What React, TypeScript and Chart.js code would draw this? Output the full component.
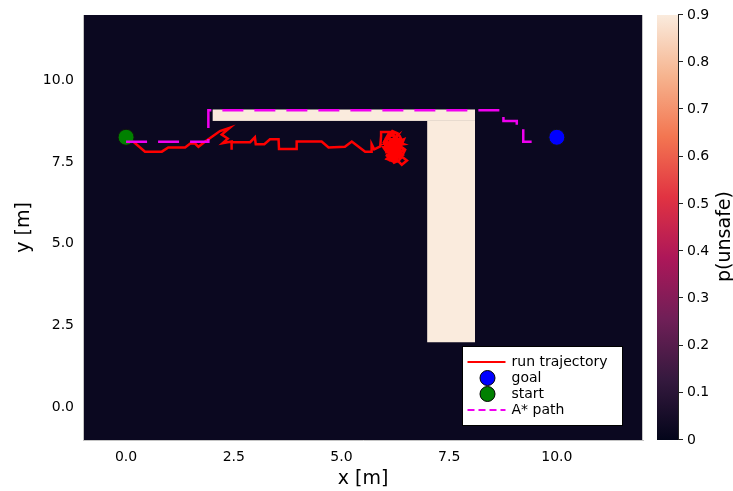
import { useEffect, useRef } from 'react';
import { Chart, registerables } from 'chart.js';

Chart.register(...registerables);

// ---- axis ticks ----
const xTicks = [0, 2.5, 5, 7.5, 10];
const yTicks = [0, 2.5, 5, 7.5, 10];
const cbTicks = [0, 0.1, 0.2, 0.3, 0.4, 0.5, 0.6, 0.7, 0.8, 0.9];

// ---- heatmap (p(unsafe)) ----
const bgP = 0.02;
const obsX0 = [2.01, 6.99];
const obsX1 = [8.1, 8.1];
const obsY0 = [8.76, 1.99];
const obsY1 = [9.11, 8.76];
const obsP = [0.9, 0.9];

// ---- markers ----
const goalX = [10.0];
const goalY = [8.26];
const startX = [0.0];
const startY = [8.26];

// ---- A* path ----
const astarX = [0.0, 1.91, 1.91, 8.76, 8.76, 9.07, 9.07, 9.22, 9.22, 9.61];
const astarY = [8.12, 8.12, 9.09, 9.09, 8.76, 8.76, 8.61, 8.61, 8.12, 8.12];

// ---- run trajectory ----
const trajX = [
  0.0, 0.17, 0.44, 0.83, 0.98, 1.37, 1.49, 1.6, 1.68, 1.83, 2.18, 2.41, 2.22, 2.36, 2.24, 2.45, 2.45, 2.45,
  2.88, 2.99, 3.01, 3.21, 3.34, 3.54, 3.55, 3.96, 3.96, 4.54, 4.7, 5.08, 5.24, 5.55, 5.7, 5.7, 5.76, 5.9,
  5.92, 5.92, 6.15, 6.15, 6.05, 6.25, 6.1, 6.3, 6.2, 6.4, 6.15, 6.35, 6.0, 6.25, 6.45, 6.1, 6.3, 6.05, 6.4,
  6.2, 6.3, 6.4, 6.52, 6.42, 6.25, 6.0, 6.2, 6.45, 6.15, 6.3, 6.1, 6.22, 6.36, 6.05, 6.28, 6.18, 6.4, 6.2,
  6.32, 6.12, 6.26,
  6.0, 6.1, 6.2, 6.28, 6.18, 6.32, 6.42, 6.35, 6.22, 6.1, 6.02, 6.12, 6.25, 6.38, 6.3, 6.18, 6.08, 6.0,
  6.15, 6.28, 6.4, 6.33, 6.22, 6.15, 6.05, 6.12, 6.2, 6.3, 6.45, 6.38, 6.48, 6.42, 6.3, 6.2, 6.1, 5.98,
  6.08, 6.18, 6.3, 6.25, 6.12, 6.02, 6.22, 6.35, 6.26, 6.14, 6.05, 6.2, 6.27, 6.16, 6.34, 6.24,
];
const trajY = [
  8.25, 8.12, 7.82, 7.82, 7.95, 7.95, 8.07, 8.07, 7.97, 8.12, 8.45, 8.55, 8.34, 8.22, 8.08, 8.13, 7.88, 8.11,
  8.11, 8.26, 8.05, 8.05, 8.2, 8.2, 7.9, 7.9, 8.13, 8.13, 7.95, 7.97, 8.13, 7.82, 7.82, 8.05, 7.89, 7.98,
  8.3, 8.42, 8.42, 8.3, 8.2, 8.2, 7.9, 8.05, 8.3, 8.15, 7.75, 7.85, 7.95, 7.65, 7.9, 8.1, 8.3, 7.8, 7.7,
  7.55, 7.55, 7.42, 7.55, 7.65, 7.9, 8.15, 8.0, 8.05, 8.2, 7.75, 7.65, 7.85, 8.0, 8.05, 8.12, 7.7, 7.95, 8.1,
  7.88, 7.98, 7.8,
  8.05, 8.25, 8.35, 8.22, 8.1, 8.0, 8.12, 8.3, 8.42, 8.38, 8.2, 8.0, 7.95, 7.82, 7.7, 7.62, 7.75, 7.9,
  7.85, 7.78, 7.65, 7.55, 7.48, 7.6, 7.7, 7.92, 8.18, 8.12, 8.2, 7.98, 7.88, 7.72, 7.88, 7.72, 7.82, 8.1,
  8.3, 8.45, 8.38, 8.05, 8.12, 7.98, 7.85, 7.92, 7.62, 7.7, 7.6, 7.52, 8.25, 8.15, 8.18, 7.96,
];

// rocket colormap (style)
const rocketStops: [number, number[]][] = [
  [0, [3, 5, 26]],
  [1 / 7, [53, 25, 62]],
  [2 / 7, [112, 31, 87]],
  [3 / 7, [173, 23, 89]],
  [4 / 7, [225, 51, 66]],
  [5 / 7, [243, 118, 81]],
  [6 / 7, [246, 180, 143]],
  [1, [250, 235, 221]],
];
const P_MAX = 0.9;
function rocket(p: number): string {
  const t = Math.max(0, Math.min(1, p / P_MAX));
  for (let i = 1; i < rocketStops.length; i++) {
    const [t1, c1] = rocketStops[i];
    const [t0, c0] = rocketStops[i - 1];
    if (t <= t1) {
      const f = (t - t0) / (t1 - t0);
      const c = c0.map((v, k) => Math.round(v + (c1[k] - v) * f));
      return `rgb(${c[0]},${c[1]},${c[2]})`;
    }
  }
  return 'rgb(250,235,221)';
}

const FONT = '"DejaVu Sans", sans-serif';
const RED = '#ff0000';
const MAGENTA = '#f000f0';

const heatmapPlugin = {
  id: 'heatmap',
  beforeDraw(chart: any) {
    const { ctx, chartArea: a, scales } = chart;
    const xs = scales.x;
    const ys = scales.y;
    ctx.save();
    ctx.fillStyle = rocket(bgP);
    ctx.fillRect(a.left, a.top, a.right - a.left, a.bottom - a.top);
    for (let i = 0; i < obsX0.length; i++) {
      const x0 = xs.getPixelForValue(obsX0[i]);
      const x1 = xs.getPixelForValue(obsX1[i]);
      const y0 = ys.getPixelForValue(obsY0[i]);
      const y1 = ys.getPixelForValue(obsY1[i]);
      ctx.fillStyle = rocket(obsP[i]);
      ctx.fillRect(x0, y1, x1 - x0, y0 - y1);
    }
    // right frame edge
    ctx.strokeStyle = '#c4c4c4';
    ctx.lineWidth = 1;
    ctx.beginPath();
    ctx.moveTo(Math.round(a.right) - 0.5, a.top);
    ctx.lineTo(Math.round(a.right) - 0.5, a.bottom);
    ctx.stroke();

    // colorbar
    const cb = scales.cb;
    const yTop = cb.getPixelForValue(cbTicks[cbTicks.length - 1]);
    const yBot = cb.getPixelForValue(cbTicks[0]);
    const barL = a.right + 14;
    const barW = 21;
    const g = ctx.createLinearGradient(0, yBot, 0, yTop);
    rocketStops.forEach(([t, c]) => g.addColorStop(t, `rgb(${c[0]},${c[1]},${c[2]})`));
    ctx.fillStyle = g;
    ctx.fillRect(barL, yTop, barW, yBot - yTop);
    ctx.strokeStyle = '#222';
    ctx.beginPath();
    ctx.moveTo(barL + barW + 0.5, yTop);
    ctx.lineTo(barL + barW + 0.5, yBot);
    cbTicks.forEach((v) => {
      const y = Math.round(cb.getPixelForValue(v)) - 0.5;
      ctx.moveTo(barL + barW, y);
      ctx.lineTo(barL + barW + 5, y);
    });
    ctx.stroke();
    // colorbar title
    ctx.save();
    ctx.translate(a.right + 82, (yTop + yBot) / 2 + 9);
    ctx.rotate(-Math.PI / 2);
    ctx.fillStyle = '#000';
    ctx.font = `19px ${FONT}`;
    ctx.textAlign = 'center';
    ctx.textBaseline = 'middle';
    ctx.fillText('p(unsafe)', 0, 0);
    ctx.restore();
    ctx.restore();
  },
};

const legendPlugin = {
  id: 'innerLegend',
  afterDraw(chart: any) {
    const { ctx, chartArea: a } = chart;
    const ds = chart.data.datasets;
    const left = Math.round(a.right - 181) + 0.5;
    const top = Math.round(a.bottom - 94) + 0.5;
    const w = 160;
    const h = 79;
    ctx.save();
    ctx.fillStyle = '#ffffff';
    ctx.fillRect(left, top, w, h);
    ctx.strokeStyle = '#000';
    ctx.lineWidth = 1;
    ctx.strokeRect(left, top, w, h);
    ctx.font = `14px ${FONT}`;
    ctx.textBaseline = 'middle';
    ctx.textAlign = 'left';
    ds.forEach((d: any, i: number) => {
      const y = top + 15.5 + i * 16;
      if (d.showLine) {
        ctx.strokeStyle = d.borderColor;
        ctx.lineWidth = 2;
        ctx.setLineDash(d.borderDash ? [7, 4] : []);
        ctx.beginPath();
        ctx.moveTo(left + 5, y);
        ctx.lineTo(left + 43, y);
        ctx.stroke();
        ctx.setLineDash([]);
      } else {
        ctx.fillStyle = d.backgroundColor;
        ctx.strokeStyle = '#000';
        ctx.lineWidth = 1;
        ctx.beginPath();
        ctx.arc(left + 25, y, 7.5, 0, Math.PI * 2);
        ctx.fill();
        ctx.stroke();
      }
      ctx.fillStyle = '#000';
      ctx.fillText(d.label, left + 49, y);
    });
    ctx.restore();
  },
};

const zeroPad = (s: any) => {
  s.paddingTop = 0;
  s.paddingBottom = 0;
  s.paddingLeft = 0;
  s.paddingRight = 0;
};

export default function App() {
  const ref = useRef<HTMLCanvasElement | null>(null);
  useEffect(() => {
    if (!ref.current) return;
    const traj = trajX.map((x, i) => ({ x, y: trajY[i] }));
    const astar = astarX.map((x, i) => ({ x, y: astarY[i] }));
    const chart = new Chart(ref.current, {
      type: 'scatter',
      data: {
        datasets: [
          {
            label: 'run trajectory',
            data: traj,
            showLine: true,
            borderColor: RED,
            backgroundColor: RED,
            borderWidth: 2.5,
            pointRadius: 0,
            tension: 0,
            order: 4,
          },
          {
            label: 'goal',
            data: goalX.map((x, i) => ({ x, y: goalY[i] })),
            backgroundColor: '#0000ff',
            borderColor: '#111',
            borderWidth: 1,
            pointRadius: 8,
            order: 3,
          },
          {
            label: 'start',
            data: startX.map((x, i) => ({ x, y: startY[i] })),
            backgroundColor: '#008000',
            borderColor: '#111',
            borderWidth: 1,
            pointRadius: 8,
            order: 2,
          },
          {
            label: 'A* path',
            data: astar,
            showLine: true,
            borderColor: MAGENTA,
            backgroundColor: MAGENTA,
            borderWidth: 2.5,
            borderDash: [21, 11],
            pointRadius: 0,
            tension: 0,
            order: 1,
          },
        ],
      } as any,
      options: {
        animation: false,
        responsive: false,
        maintainAspectRatio: false,
        layout: { padding: { top: 15, right: 0, bottom: 0, left: 0 } },
        plugins: { legend: { display: false }, tooltip: { enabled: false } },
        scales: {
          x: {
            type: 'linear',
            min: -1,
            max: 12,
            grid: { display: false, drawTicks: false },
            border: { display: true, color: '#c4c4c4', width: 1 },
            afterBuildTicks: (s: any) => {
              s.ticks = xTicks.map((v) => ({ value: v }));
            },
            afterFit: (s: any) => {
              s.height = 51;
              zeroPad(s);
            },
            ticks: {
              autoSkip: false,
              maxRotation: 0,
              padding: 9,
              color: '#000',
              font: { family: FONT, size: 14 },
              callback: (v: any) => Number(v).toFixed(1),
            },
            title: {
              display: true,
              text: 'x [m]',
              color: '#000',
              font: { family: FONT, size: 19 },
              padding: { top: 0, bottom: 1 },
            },
          },
          y: {
            type: 'linear',
            min: -1,
            max: 12,
            grid: { display: false, drawTicks: false },
            border: { display: true, color: '#c4c4c4', width: 1 },
            afterBuildTicks: (s: any) => {
              s.ticks = yTicks.map((v) => ({ value: v }));
            },
            afterFit: (s: any) => {
              s.width = 83;
              zeroPad(s);
            },
            ticks: {
              autoSkip: false,
              padding: 9,
              color: '#000',
              font: { family: FONT, size: 14 },
              callback: (v: any) => Number(v).toFixed(1),
            },
            title: {
              display: true,
              text: 'y [m]',
              color: '#000',
              font: { family: FONT, size: 19 },
              padding: { top: 13, bottom: 0 },
            },
          },
          cb: {
            type: 'linear',
            position: 'right',
            min: 0,
            max: 0.9,
            grid: { display: false, drawTicks: false },
            border: { display: false },
            afterBuildTicks: (s: any) => {
              s.ticks = cbTicks.map((v) => ({ value: v }));
            },
            afterFit: (s: any) => {
              s.width = 90;
              zeroPad(s);
            },
            ticks: {
              autoSkip: false,
              padding: 44,
              color: '#000',
              font: { family: FONT, size: 14 },
              callback: (v: any) => (Number(v) === 0 ? '0' : Number(v).toFixed(1)),
            },
          },
        },
      } as any,
      plugins: [heatmapPlugin, legendPlugin],
    });
    return () => chart.destroy();
  }, []);

  return (
    <div style={{ position: 'absolute', left: 0, top: 0, width: 733, height: 491, background: '#fff' }}>
      <canvas ref={ref} width={733} height={491} style={{ display: 'block' }} />
    </div>
  );
}
